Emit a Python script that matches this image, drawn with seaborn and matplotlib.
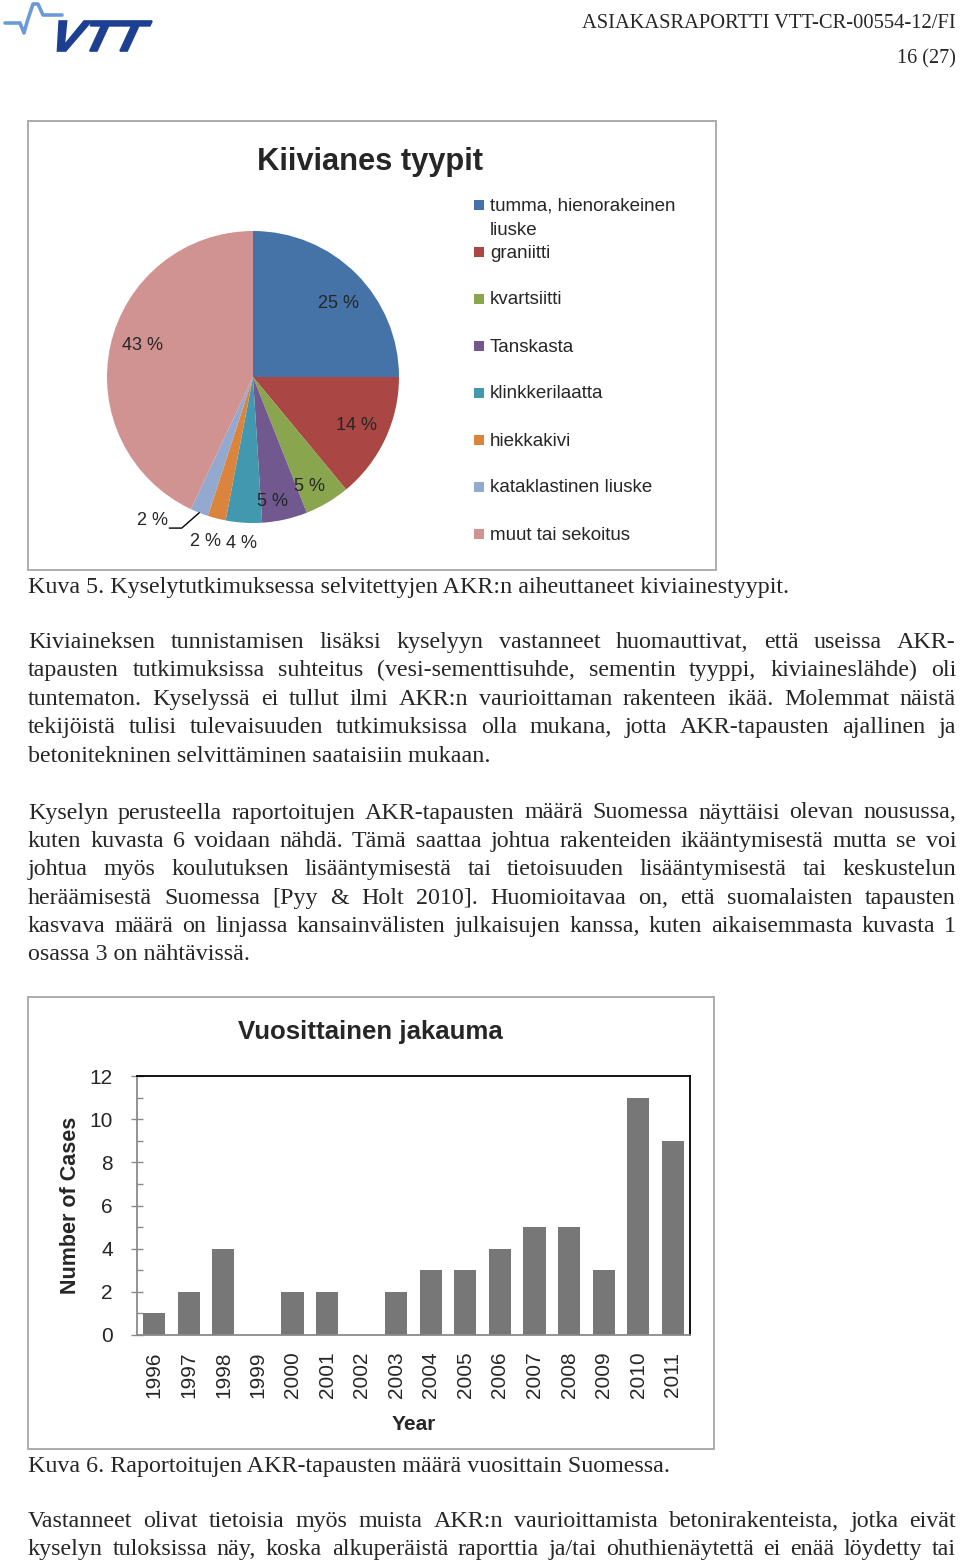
import numpy as np
import matplotlib
matplotlib.use("Agg")
import matplotlib.pyplot as plt
import seaborn as sns
from matplotlib.patches import Rectangle, PathPatch
from matplotlib.textpath import TextPath
from matplotlib.font_manager import FontProperties
from matplotlib.transforms import Affine2D
from matplotlib.ticker import MultipleLocator

# ---------------- data ----------------
header_report = "ASIAKASRAPORTTI VTT-CR-00554-12/FI"
header_page = "16 (27)"

pie_title = "Kiivianes tyypit"
rock_types = ["tumma, hienorakeinen\nliuske", "graniitti", "kvartsiitti", "Tanskasta",
              "klinkkerilaatta", "hiekkakivi", "kataklastinen liuske", "muut tai sekoitus"]
rock_shares = [25, 14, 5, 5, 4, 2, 2, 43]
rock_colors = ["#4572A7", "#AA4643", "#89A54E", "#71588F",
               "#4198AF", "#DB843D", "#93A9CF", "#D19392"]

bar_title = "Vuosittainen jakauma"
years = ["1996", "1997", "1998", "1999", "2000", "2001", "2002", "2003",
         "2004", "2005", "2006", "2007", "2008", "2009", "2010", "2011"]
cases = [1, 2, 4, 0, 2, 2, 0, 2, 3, 3, 4, 5, 5, 3, 11, 9]
y_ticks = [0, 2, 4, 6, 8, 10, 12]
x_label = "Year"
y_label = "Number of Cases"

caption5 = "Kuva 5. Kyselytutkimuksessa selvitettyjen AKR:n aiheuttaneet kiviainestyypit."
para1 = [
    "Kiviaineksen tunnistamisen lisäksi kyselyyn vastanneet huomauttivat, että useissa AKR-",
    "tapausten tutkimuksissa suhteitus (vesi-sementtisuhde, sementin tyyppi, kiviaineslähde) oli",
    "tuntematon. Kyselyssä ei tullut ilmi AKR:n vaurioittaman rakenteen ikää. Molemmat näistä",
    "tekijöistä tulisi tulevaisuuden tutkimuksissa olla mukana, jotta AKR-tapausten ajallinen ja",
    "betonitekninen selvittäminen saataisiin mukaan.",
]
para2 = [
    "Kyselyn perusteella raportoitujen AKR-tapausten määrä Suomessa näyttäisi olevan nousussa,",
    "kuten kuvasta 6 voidaan nähdä. Tämä saattaa johtua rakenteiden ikääntymisestä mutta se voi",
    "johtua myös koulutuksen lisääntymisestä tai tietoisuuden lisääntymisestä tai keskustelun",
    "heräämisestä Suomessa [Pyy & Holt 2010]. Huomioitavaa on, että suomalaisten tapausten",
    "kasvava määrä on linjassa kansainvälisten julkaisujen kanssa, kuten aikaisemmasta kuvasta 1",
    "osassa 3 on nähtävissä.",
]
caption6 = "Kuva 6. Raportoitujen AKR-tapausten määrä vuosittain Suomessa."
para3 = [
    "Vastanneet olivat tietoisia myös muista AKR:n vaurioittamista betonirakenteista, jotka eivät",
    "kyselyn tuloksissa näy, koska alkuperäistä raporttia ja/tai ohuthienäytettä ei enää löydetty tai",
]

# ---------------- style ----------------
sns.set_style("white")
SERIF = "Liberation Serif"
SANS = "Liberation Sans"
plt.rcParams["font.family"] = [SANS, "DejaVu Sans"]

W, H = 960, 1566
fig = plt.figure(figsize=(W / 100, H / 100), dpi=100)


def rect(x0, y0, x1, y1):
    return [x0 / W, 1 - y1 / H, (x1 - x0) / W, (y1 - y0) / H]


# ---------------- pie chart ----------------
axp = fig.add_axes(rect(107, 231, 399, 523))
wedges, _ = axp.pie(rock_shares, colors=rock_colors, startangle=90, counterclock=False,
                    wedgeprops=dict(linewidth=0))
axp.set_xlim(-1, 1)
axp.set_ylim(-1, 1)
axp.set_aspect("equal")

# label placement: (radius factor, angle offset from wedge middle in degrees)
label_r = [0.78, 0.78, 0.83, 0.85, 1.13, 1.16, None, 0.79]
label_da = [-3.5, 1.0, -3.0, -3.5, -0.5, -2.0, 0.0, -4.5]
cum = np.cumsum([0] + rock_shares)
for i, v in enumerate(rock_shares):
    mid_deg = 90 - 3.6 * (cum[i] + v / 2)
    mid = np.deg2rad(mid_deg)
    if label_r[i] is not None:
        a = np.deg2rad(mid_deg + label_da[i])
        axp.text(label_r[i] * np.cos(a), label_r[i] * np.sin(a) - 0.015, f"{v} %",
                 ha="center", va="center", fontsize=13, family=SANS, clip_on=False)
    else:
        p0 = (np.cos(mid), np.sin(mid))
        elbow = (p0[0] - 0.12, p0[1] - 0.105)
        end = (elbow[0] - 0.085, elbow[1])
        axp.plot([p0[0], elbow[0], end[0]], [p0[1], elbow[1], end[1]],
                 color="black", lw=1, clip_on=False)
        axp.text(end[0] - 0.01, end[1] + 0.05, f"{v} %", ha="right", va="center",
                 fontsize=13, family=SANS, clip_on=False)

# ---------------- bar chart ----------------
axb = fig.add_axes(rect(137, 1076, 690, 1335))
sns.barplot(x=years, y=cases, color="#777777", saturation=1, width=0.64,
            linewidth=0, ax=axb)
axb.set_xlim(-0.5, len(years) - 0.5)
axb.set_ylim(0, 12)
axb.set_yticks(y_ticks)
axb.yaxis.set_minor_locator(MultipleLocator(1))
axb.set_xlabel("")
axb.set_ylabel("")
for s in ["top", "right"]:
    axb.spines[s].set_color("black")
    axb.spines[s].set_linewidth(1.3)
for s in ["left", "bottom"]:
    axb.spines[s].set_color("#8a8a8a")
    axb.spines[s].set_linewidth(1.3)
axb.tick_params(axis="y", which="major", direction="inout", length=8.6, width=1,
                color="#8a8a8a", pad=13, labelsize=15, left=True)
axb.tick_params(axis="y", which="minor", direction="in", length=4.3, width=1,
                color="#8a8a8a", left=True)
axb.tick_params(axis="x", length=0, pad=12, labelsize=15, labelrotation=90)
for lab in axb.get_xticklabels() + axb.get_yticklabels():
    lab.set_family(SANS)

# ---------------- overlay (page) ----------------
ov = fig.add_axes([0, 0, 1, 1])
ov.set_xlim(0, W)
ov.set_ylim(H, 0)
ov.axis("off")
ov.set_zorder(10)
R = fig.canvas.get_renderer()


def fit(t, target):
    w = t.get_window_extent(R).width
    t.set_fontsize(t.get_fontsize() * target / w)
    return t.get_fontsize()


# header
t = ov.text(956, 28, header_report, ha="right", va="baseline", family=SERIF, fontsize=16)
fit(t, 376)
t = ov.text(956, 63, header_page, ha="right", va="baseline", family=SERIF, fontsize=16)
fit(t, 59)

# logo
tp = TextPath((0, 0), "VTT", size=100,
              prop=FontProperties(family=SANS, weight="bold", style="italic"))
bb = tp.get_extents()
tr = (Affine2D().translate(-bb.x0, -bb.y0).skew_deg(12, 0)
      .scale(100 / (bb.width + bb.height * np.tan(np.deg2rad(12))), -30 / bb.height)
      .translate(52, 51))
ov.add_patch(PathPatch(tr.transform_path(tp), facecolor="#1d3f92", edgecolor="#1d3f92",
                       lw=1.2))
ov.plot([5, 20, 24, 27, 33, 38, 43, 62], [23, 23, 33, 22, 4, 4, 15, 15],
        color="#6b9bd6", lw=2.6, solid_joinstyle="round")

# boxes
ov.add_patch(Rectangle((28, 121), 688, 449, fill=False, edgecolor="#a6a6a6", lw=1.3))
ov.add_patch(Rectangle((28, 997), 686, 452, fill=False, edgecolor="#a6a6a6", lw=1.3))

# chart titles
t = ov.text(370, 170, pie_title, ha="center", va="baseline", family=SANS,
            weight="bold", fontsize=18)
fit(t, 226)
t = ov.text(370, 1039, bar_title, ha="center", va="baseline", family=SANS,
            weight="bold", fontsize=16)
fit(t, 264)

# legend
tl = ov.text(490, 0, "kataklastinen liuske", family=SANS, fontsize=13)
leg_size = fit(tl, 163)
tl.remove()
for i, (name, col) in enumerate(zip(rock_types, rock_colors)):
    cy = 205 + 47 * i
    ov.add_patch(Rectangle((474, cy - 5), 10, 10, facecolor=col, edgecolor="none"))
    for j, line in enumerate(name.split("\n")):
        ov.text(490, cy + 5.5 + 24.5 * j, line, ha="left", va="baseline",
                family=SANS, fontsize=leg_size)

# axis labels of bar chart
ov.text(414, 1424, x_label, ha="center", va="center", family=SANS, weight="bold", fontsize=15)
ov.text(71, 1205, y_label, ha="center", va="center", rotation=90, family=SANS,
        weight="bold", fontsize=15.5)

# body text
tc = ov.text(28, 593, caption5, ha="left", va="baseline", family=SERIF, fontsize=17)
body_size = fit(tc, 762)


def text_line(line, y, justify=True):
    words = line.split(" ")
    if not justify:
        ov.text(28, y, line, ha="left", va="baseline", family=SERIF, fontsize=body_size)
        return
    ts = [ov.text(0, y, w, ha="left", va="baseline", family=SERIF, fontsize=body_size)
          for w in words]
    widths = [tt.get_window_extent(R).width for tt in ts]
    gap = (928 - sum(widths)) / (len(words) - 1)
    x = 28
    for tt, w in zip(ts, widths):
        tt.set_x(x)
        x += w + gap


def paragraph(lines, y0, last_justified=False):
    for k, line in enumerate(lines):
        last = k == len(lines) - 1
        text_line(line, y0 + 28.4 * k, justify=(not last) or last_justified)


paragraph(para1, 648)
paragraph(para2, 818.5)
text_line(caption6, 1472, justify=False)
paragraph(para3, 1527, last_justified=True)

fig.savefig("out.png", dpi=100)
